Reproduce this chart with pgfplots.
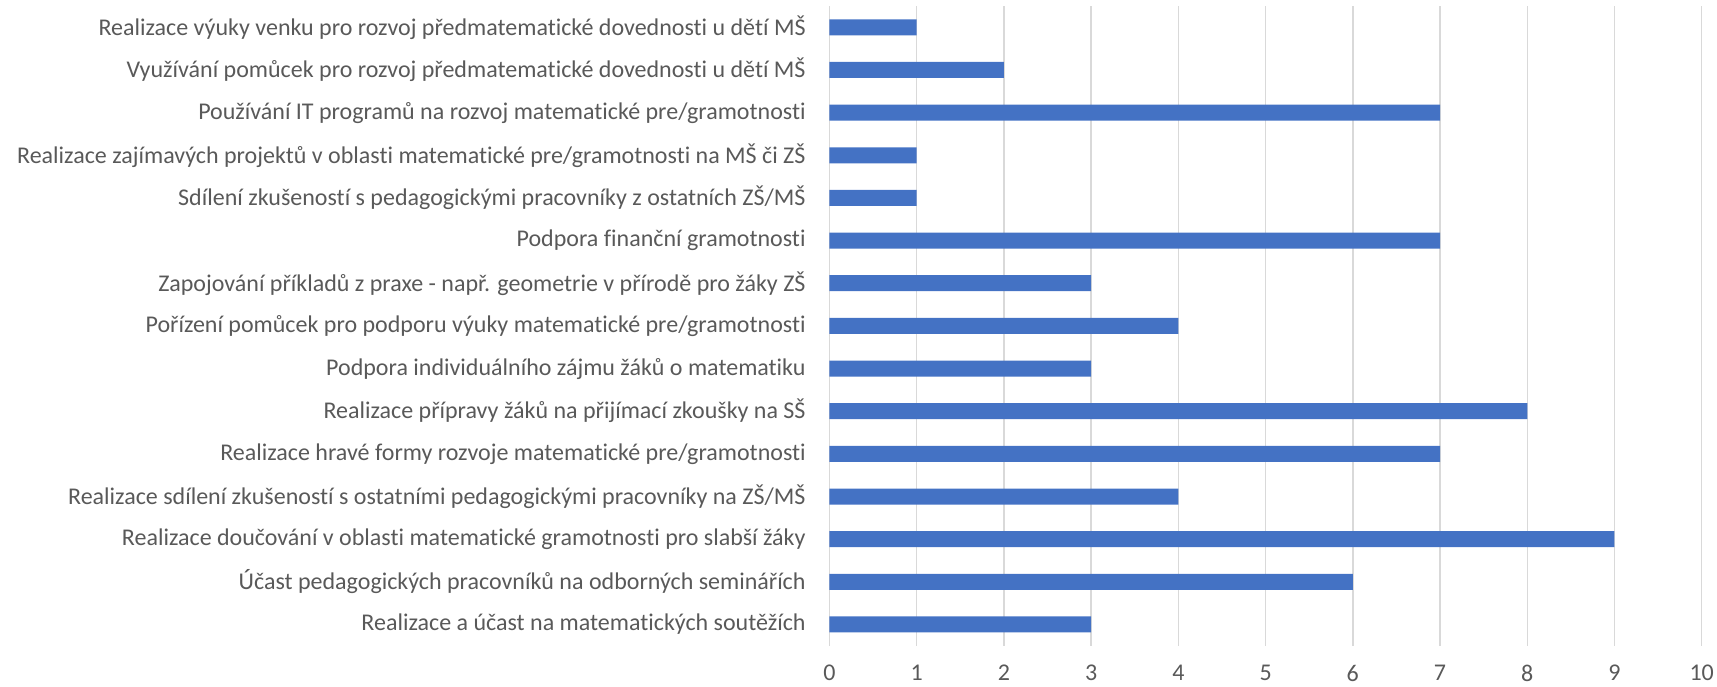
\documentclass[border=0pt]{standalone}
\usepackage{fontspec}
\setmainfont{Carlito}[Ligatures=CommonOff]
\usepackage{pgfplots}
\pgfplotsset{compat=1.18}
\definecolor{barblue}{HTML}{4472C4}
\definecolor{gridgray}{HTML}{D9D9D9}
\definecolor{txtgray}{HTML}{595959}
\begin{document}
\begin{tikzpicture}
\begin{axis}[
  scale only axis,
  width=436.1pt, height=319.9pt,
  at={(0,0)}, anchor=south west,
  xbar, bar width=8pt,
  xmin=0, xmax=10,
  ymin=-0.5, ymax=14.5,
  xtick={0,...,10},
  ytick={0,...,14},
  yticklabels={
    Realizace a účast na matematických soutěžích,
    Účast pedagogických pracovníků na odborných seminářích,
    Realizace doučování v oblasti matematické gramotnosti pro slabší žáky,
    Realizace sdílení zkušeností s ostatními pedagogickými pracovníky na ZŠ/MŠ,
    Realizace hravé formy rozvoje matematické pre/gramotnosti,
    Realizace přípravy žáků na přijímací zkoušky na SŠ,
    Podpora individuálního zájmu žáků o matematiku,
    Pořízení pomůcek pro podporu výuky matematické pre/gramotnosti,
    Zapojování příkladů z praxe - např. geometrie v přírodě pro žáky ZŠ,
    Podpora finanční gramotnosti,
    Sdílení zkušeností s pedagogickými pracovníky z ostatních ZŠ/MŠ,
    Realizace zajímavých projektů v oblasti matematické pre/gramotnosti na MŠ či ZŠ,
    Používání IT programů na rozvoj matematické pre/gramotnosti,
    Využívání pomůcek pro rozvoj předmatematické dovednosti u dětí MŠ,
    Realizace výuky venku pro rozvoj předmatematické dovednosti u dětí MŠ},
  axis line style={draw=none},
  major tick length=0pt,
  xmajorgrids,
  major grid style={gridgray, line width=0.75pt},
  /pgf/number format/assume math mode=true,
  ticklabel style={font=\fontsize{12}{14}\selectfont, text=txtgray, inner sep=0pt},
  yticklabel style={anchor=east, xshift=-11.75pt},
  xticklabel style={anchor=north, yshift=-9.5pt},
  clip=false,
]
\addplot[fill=barblue, draw=none] coordinates {
  (3,0) (6,1) (9,2) (4,3) (7,4) (8,5) (3,6) (4,7) (3,8) (7,9) (1,10) (1,11) (7,12) (2,13) (1,14)
};
\end{axis}
\pgfresetboundingbox
\path[use as bounding box] (-414.75pt,-20.1pt) rectangle (443.75pt,322.9pt);
\end{tikzpicture}
\end{document}
